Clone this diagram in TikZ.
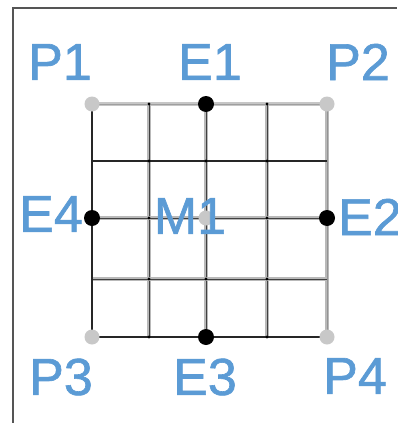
\documentclass[tikz,border=0pt]{standalone}
\usepackage{fontspec}
\setmainfont{Liberation Sans}
\newfontfamily\lblfont[FakeBold=1.2]{Liberation Sans}
\definecolor{lblue}{RGB}{91,155,213}
\definecolor{frame}{RGB}{85,85,85}
\definecolor{pgray}{RGB}{200,200,200}
\begin{document}
\begin{tikzpicture}[x=1pt,y=-1pt,
  lbl/.style={text=lblue,font=\lblfont\fontsize{52}{52}\selectfont,inner sep=0pt},
  halo/.style={draw=gray!55,line width=4.5pt},
  core/.style={draw=black!75,line width=1pt},
  dark/.style={draw=black!85,line width=2.6pt},
  light/.style={draw=gray!45,line width=4.5pt},
  edot/.style={circle,fill=black,inner sep=0pt,minimum size=16pt},
  pdot/.style={circle,fill=pgray,inner sep=0pt,minimum size=15pt},
  sdot/.style={circle,fill=black,inner sep=0pt,minimum size=3.4pt}]
\useasboundingbox (0,0) rectangle (397,423);
\fill[white] (0,0) rectangle (397,423);
% frame
\coordinate (fb) at (13,423);
\coordinate (ft) at (13,8);
\coordinate (fr) at (397,8);
\draw[frame,line width=2.2pt] (fb) -- (ft) -- (fr);
% grid coordinates
\foreach \i/\x in {0/92,1/149,2/206,3/267,4/327}{
  \foreach \j/\y in {0/104,1/161,2/218,3/279,4/337}{
    \coordinate (g\i\j) at (\x,\y);
  }
}
% top line
\draw[light] (g00) -- (g40);
\draw[draw=gray!75,line width=0.7pt] (g00) -- (g40);
% inner verticals
\foreach \i in {1,2,3}{
  \draw[halo] (g\i0) -- (g\i4);
  \draw[core] (g\i0) -- (g\i4);
}
% right vertical
\draw[halo] (g40) -- (g44);
\draw[draw=gray!85,line width=1pt] (g40) -- (g44);
% inner horizontals
\foreach \j in {2,3}{
  \draw[halo] (g0\j) -- (g4\j);
  \draw[core] (g0\j) -- (g4\j);
}
% dark lines
\draw[dark] (g01) -- (g41);
\draw[dark] (g00) -- (g04);
\draw[dark] (g04) -- (g44);
% small intersection dots
\foreach \i in {1,3}{
  \foreach \j in {0,1,2,3,4}{ \node[sdot] at (g\i\j) {}; }
}
\foreach \j in {1,3}{ \node[sdot] at (g2\j) {}; }
% markers
\node[pdot] (P1) at (g00) {};
\node[pdot] (P2) at (g40) {};
\node[pdot] (P3) at (g04) {};
\node[pdot] (P4) at (g44) {};
\node[pdot] (M1) at (g22) {};
\node[edot] (E1) at (g20) {};
\node[edot] (E2) at (g42) {};
\node[edot] (E3) at (g24) {};
\node[edot] (E4) at (g02) {};
% labels
\node[lbl] (lP1) at (60,62) {P1};
\node[lbl] (lE1) at (210,62) {E1};
\node[lbl] (lP2) at (358,62) {P2};
\node[lbl] (lE4) at (51,214) {E4};
\node[lbl] (lM1) at (190,216) {M1};
\node[lbl] (lE2) at (370,217) {E2};
\node[lbl] (lP3) at (61,377) {P3};
\node[lbl] (lE3) at (205,377) {E3};
\node[lbl] (lP4) at (355,376) {P4};
\end{tikzpicture}
\end{document}
